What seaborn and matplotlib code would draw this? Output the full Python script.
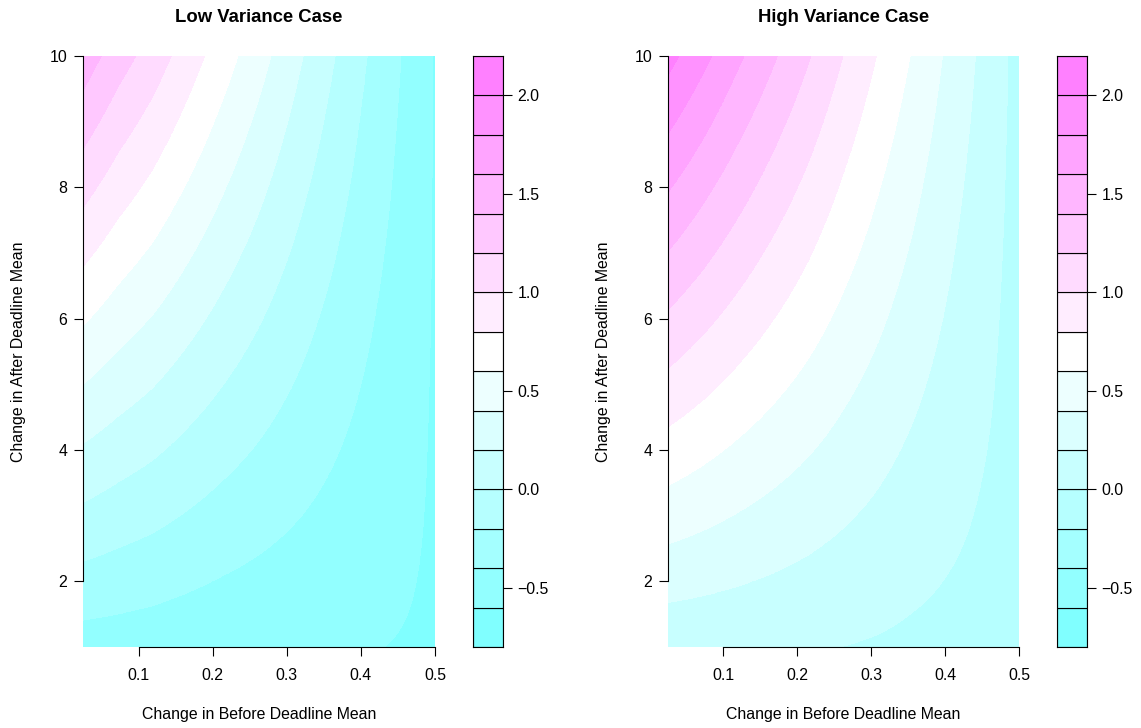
import numpy as np
import matplotlib
matplotlib.use("Agg")
import matplotlib.pyplot as plt
from matplotlib.colors import ListedColormap, BoundaryNorm
import seaborn as sns

# grid (evenly spaced so the library can interpolate it)
x_vals = [0.025, 0.0725, 0.12, 0.1675, 0.215, 0.2625, 0.31, 0.3575, 0.405, 0.4525, 0.5]
y_vals = [1, 2, 3, 4, 5, 6, 7, 8, 9, 10]

z_low = [
    [-0.490, -0.500, -0.513, -0.532, -0.550, -0.562, -0.572, -0.582, -0.592, -0.606, -0.620],
    [-0.267, -0.300, -0.333, -0.373, -0.412, -0.446, -0.480, -0.513, -0.546, -0.582, -0.619],
    [-0.043, -0.101, -0.152, -0.214, -0.275, -0.331, -0.387, -0.444, -0.501, -0.558, -0.618],
    [0.180, 0.099, 0.028, -0.055, -0.137, -0.215, -0.295, -0.375, -0.455, -0.534, -0.617],
    [0.403, 0.298, 0.209, 0.104, 0.001, -0.100, -0.202, -0.306, -0.409, -0.510, -0.616],
    [0.627, 0.498, 0.389, 0.264, 0.138, 0.016, -0.110, -0.237, -0.364, -0.485, -0.614],
    [0.850, 0.697, 0.570, 0.423, 0.276, 0.131, -0.017, -0.167, -0.318, -0.461, -0.613],
    [1.073, 0.897, 0.750, 0.582, 0.414, 0.247, 0.075, -0.098, -0.272, -0.437, -0.612],
    [1.297, 1.096, 0.931, 0.741, 0.551, 0.362, 0.168, -0.029, -0.227, -0.413, -0.611],
    [1.520, 1.296, 1.111, 0.900, 0.689, 0.478, 0.260, 0.040, -0.181, -0.389, -0.610],
]

z_high = [
    [0.050, 0.044, 0.036, 0.025, 0.013, -0.001, -0.017, -0.037, -0.052, -0.065, -0.072],
    [0.274, 0.245, 0.214, 0.181, 0.147, 0.110, 0.073, 0.032, -0.006, -0.041, -0.071],
    [0.499, 0.447, 0.392, 0.337, 0.281, 0.222, 0.163, 0.101, 0.041, -0.017, -0.070],
    [0.723, 0.648, 0.570, 0.493, 0.415, 0.333, 0.252, 0.170, 0.087, 0.008, -0.069],
    [0.948, 0.850, 0.748, 0.649, 0.549, 0.444, 0.342, 0.239, 0.133, 0.032, -0.068],
    [1.172, 1.051, 0.927, 0.805, 0.684, 0.556, 0.432, 0.307, 0.180, 0.056, -0.068],
    [1.397, 1.253, 1.105, 0.961, 0.818, 0.667, 0.522, 0.376, 0.226, 0.080, -0.067],
    [1.621, 1.454, 1.283, 1.117, 0.952, 0.778, 0.611, 0.445, 0.272, 0.105, -0.066],
    [1.846, 1.656, 1.461, 1.273, 1.086, 0.890, 0.701, 0.514, 0.319, 0.129, -0.065],
    [2.070, 1.857, 1.639, 1.429, 1.220, 1.001, 0.791, 0.583, 0.365, 0.153, -0.064],
]

levels = [-0.8, -0.6, -0.4, -0.2, 0.0, 0.2, 0.4, 0.6, 0.8, 1.0, 1.2, 1.4, 1.6, 1.8, 2.0, 2.2]
# R cm.colors(15)
band_colors = ["#80FFFF", "#92FFFF", "#A4FFFF", "#B6FFFF", "#C8FFFF", "#DBFFFF", "#EDFFFF",
               "#FFFFFF", "#FFEDFF", "#FFDBFF", "#FFC8FF", "#FFB6FF", "#FFA4FF", "#FF92FF", "#FF80FF"]
cbar_ticks = [-0.5, 0.0, 0.5, 1.0, 1.5, 2.0]
x_ticks = [0.1, 0.2, 0.3, 0.4, 0.5]
y_ticks = [2, 4, 6, 8, 10]

sns.set_style("ticks", rc={"axes.edgecolor": "black", "text.color": "black",
                           "xtick.color": "black", "ytick.color": "black",
                           "axes.labelcolor": "black"})
plt.rcParams["font.family"] = ["Liberation Sans", "DejaVu Sans"]

cmap = ListedColormap(band_colors)
norm = BoundaryNorm(levels, cmap.N)

W, H = 1141, 728
fig = plt.figure(figsize=(W / 100, H / 100), dpi=100)
fs = 11.4

def box(l, t, r, b):
    return [l / W, 1 - b / H, (r - l) / W, (b - t) / H]

panels = [
    ("Low Variance Case", z_low, box(83, 56, 435, 647), box(473, 56, 503, 647)),
    ("High Variance Case", z_high, box(668, 56, 1019, 647), box(1057, 56, 1087, 647)),
]

dx = x_vals[1] - x_vals[0]
dy = y_vals[1] - y_vals[0]

for title, z, pos, cpos in panels:
    ax = fig.add_axes(pos)
    ax.imshow(np.array(z), origin="lower", aspect="auto", cmap=cmap, norm=norm,
              interpolation="bilinear", interpolation_stage="data",
              extent=[x_vals[0] - dx / 2, x_vals[-1] + dx / 2,
                      y_vals[0] - dy / 2, y_vals[-1] + dy / 2])
    ax.set_xlim(x_vals[0], x_vals[-1])
    ax.set_ylim(y_vals[0], y_vals[-1])
    ax.set_xticks(x_ticks)
    ax.set_xticklabels([f"{v:.1f}" for v in x_ticks])
    ax.set_yticks(y_ticks)
    ax.set_yticklabels([str(v) for v in y_ticks])
    sns.despine(ax=ax, trim=True)
    for s in ["left", "bottom"]:
        ax.spines[s].set_linewidth(0.8)
    ax.tick_params(axis="both", direction="out", length=6.5, width=0.8, labelsize=fs)
    ax.tick_params(axis="x", pad=8.5)
    ax.tick_params(axis="y", pad=5)
    ax.set_xlabel("Change in Before Deadline Mean", fontsize=fs)
    ax.xaxis.set_label_coords(0.5, (647 - 715) / 591)
    ax.xaxis.label.set_va("center")
    ax.set_ylabel("Change in After Deadline Mean", fontsize=fs)
    ax.yaxis.set_label_coords((18 - 83) / 352, 0.5)
    ax.yaxis.label.set_va("center")
    ax.text(0.5, (647 - 17) / 591, title, transform=ax.transAxes, ha="center", va="center",
            fontsize=13.3, fontweight="bold")

    cax = fig.add_axes(cpos)
    cax.bar(0.5, np.diff(levels), bottom=levels[:-1], width=1, color=band_colors,
            edgecolor="black", linewidth=0.8)
    cax.set_xlim(0, 1)
    cax.set_ylim(levels[0], levels[-1])
    cax.set_xticks([])
    cax.yaxis.tick_right()
    cax.set_yticks(cbar_ticks)
    cax.set_yticklabels([f"{v:.1f}".replace("-", "\u2212") for v in cbar_ticks])
    cax.tick_params(axis="y", direction="out", length=6.5, width=0.8, labelsize=fs, pad=4)
    for s in cax.spines.values():
        s.set_visible(True)
        s.set_linewidth(0.8)

fig.savefig("out.png", dpi=100)
